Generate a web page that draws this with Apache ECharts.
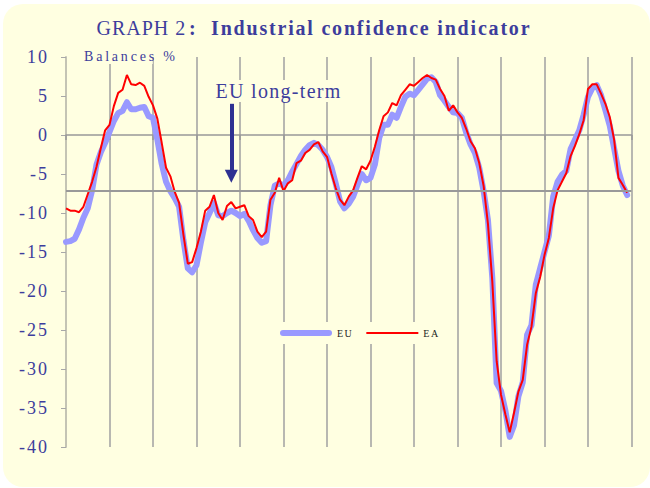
<!DOCTYPE html>
<html>
<head>
<meta charset="utf-8">
<script src="https://cdn.jsdelivr.net/npm/echarts@6/dist/echarts.min.js"></script>
<style>
    html, body { margin: 0; padding: 0; background: #ffffff; }
    #panel {
        position: absolute; left: 3px; top: 4px; width: 647px; height: 483px;
        background: #ffffe1; border-radius: 20px;
    }
    #main { position: absolute; left: 0; top: 0; width: 650px; height: 488px; }
</style>
</head>
<body>
<div id="panel"></div>
<div id="main"></div>
<script>
// values, one point every ~1/10 of a grid interval
var euValues = [
    -13.7, -13.6, -13.3, -12.1, -10.6, -9.4, -7.1, -3.8, -2.2, -1.0,
    0.4, 1.8, 2.8, 3.1, 4.2, 3.3, 3.3, 3.5, 3.6, 2.4,
    2.2, -0.6, -3.7, -6.0, -7.2, -8.1, -9.2, -13.5, -17.1, -17.6,
    -16.7, -13.8, -11.2, -10.0, -8.7, -10.3, -10.4, -10.0, -9.7, -10.0,
    -10.4, -10.1, -11.0, -12.2, -13.2, -13.8, -13.6, -9.0, -6.5, -6.2,
    -6.5, -5.8, -4.7, -3.7, -2.7, -1.9, -1.3, -1.0, -1.3, -1.9,
    -2.8, -4.1, -6.2, -8.5, -9.4, -8.8, -7.9, -6.4, -5.0, -5.8,
    -5.5, -3.8, -0.4, 1.3, 1.3, 2.6, 2.2, 3.6, 4.9, 5.3,
    5.1, 5.8, 6.5, 7.2, 7.4, 6.8, 5.1, 4.4, 3.6, 2.9,
    2.8, 2.2, 0.3, -1.2, -2.3, -4.2, -7.2, -10.9, -18.3, -31.8,
    -32.8, -35.3, -38.7, -37.2, -33.5, -31.7, -25.6, -24.4, -19.2, -17.1,
    -15.0, -12.9, -7.9, -6.0, -5.1, -4.6, -1.8, -0.6, 0.6, 2.6,
    4.9, 6.0, 6.4, 5.1, 3.2, 1.2, -1.7, -4.6, -6.5, -7.7
];
var eaValues = [
    -9.4, -9.7, -9.7, -9.9, -9.2, -7.6, -6.0, -4.1, -1.7, 0.6,
    1.3, 3.7, 5.4, 5.8, 7.7, 6.5, 6.4, 6.7, 6.3, 4.9,
    3.8, 2.1, -1.0, -4.2, -5.3, -7.3, -8.7, -12.8, -16.5, -16.3,
    -14.5, -12.4, -9.7, -9.2, -7.7, -10.0, -10.9, -9.1, -8.6, -9.4,
    -9.2, -9.0, -10.4, -10.9, -12.4, -13.1, -12.4, -8.3, -7.4, -5.5,
    -7.2, -6.2, -5.8, -3.6, -3.3, -2.3, -1.9, -1.2, -0.9, -2.1,
    -2.8, -4.9, -6.8, -8.3, -9.0, -7.9, -7.1, -5.5, -4.0, -4.4,
    -3.3, -1.5, 0.6, 2.4, 2.9, 4.1, 3.8, 5.1, 5.8, 6.5,
    6.3, 6.8, 7.3, 7.7, 7.3, 7.1, 5.9, 5.0, 3.1, 3.8,
    2.9, 2.2, 0.8, -0.8, -1.7, -3.6, -6.5, -11.4, -18.8, -29.0,
    -33.3, -35.8, -38.1, -35.6, -32.9, -31.4, -26.9, -24.6, -20.3, -18.2,
    -15.4, -13.2, -9.4, -7.1, -6.0, -4.9, -2.7, -1.4, 0.1, 1.9,
    5.9, 6.5, 6.5, 5.3, 4.0, 2.3, -0.6, -5.5, -6.4, -7.4
];
var longTermAvg = -7.2;
// arrow "EU long-term": category index, top and tip values
var arrowAt = 38;
var arrowFrom = 4.0;
var arrowTo = -5.3;

var categories = [];
for (var k = 0; k <= 130; k++) {
    categories.push(String(k + 1));
}

var serif = "'Liberation Serif', 'DejaVu Serif', serif";
var blue = '#3d3d9c';
var bg = '#ffffe1';

// spaced-out lettering of the original, applied to the svg texts after render
var spacing = {
    'GRAPH 2': 1,
    ':  Industrial confidence indicator': 1.8,
    'Balances %': 2.8,
    'EU long-term': 1.3,
    'EU': 1.5,
    'EA': 1.5
};

var chartDom = document.getElementById('main');
var myChart = echarts.init(chartDom, null, { renderer: 'svg' });
var option = {
    animation: false,
    title: {
        text: 'GRAPH 2',
        left: 91.5,
        top: 12.5,
        textStyle: { fontFamily: serif, fontSize: 20, fontWeight: 'normal', color: blue }
    },
    graphic: [
        {
            type: 'text',
            left: 189,
            top: 17.5,
            style: {
                text: ':  Industrial confidence indicator',
                font: 'bold 20px ' + serif,
                fill: blue
            }
        },
        {
            type: 'text',
            left: 81,
            top: 48,
            z: 10,
            style: {
                text: 'Balances %',
                font: '14px ' + serif,
                fill: blue,
                backgroundColor: bg,
                padding: [1, 3]
            }
        },
        {
            type: 'text',
            left: 213.5,
            top: 80,
            z: 10,
            style: {
                text: 'EU long-term',
                font: '20px ' + serif,
                fill: blue,
                backgroundColor: bg,
                padding: [1, 18, 1, 2]
            }
        }
    ],
    legend: {
        left: 272,
        top: 322,
        padding: [6, 8, 6, 8],
        itemGap: 16,
        itemWidth: 52,
        itemHeight: 12,
        backgroundColor: bg,
        textStyle: { fontFamily: serif, fontSize: 10, color: '#222' },
        data: [
            { name: 'EU', icon: 'path://M3,0 L49,0 A3,3 0 0 1 49,6 L3,6 A3,3 0 0 1 3,0 Z' },
            { name: 'EA', icon: 'path://M0,0 L50,0 L50,2 L0,2 Z' }
        ]
    },
    grid: {
        left: 66,
        right: 18.5,
        top: 57,
        bottom: 41
    },
    xAxis: {
        type: 'category',
        boundaryGap: false,
        data: categories,
        axisLine: { lineStyle: { color: '#999999', width: 1.5 } },
        axisTick: { interval: 9, length: 5, lineStyle: { color: '#999999', width: 1.5 } },
        axisLabel: { show: false },
        splitLine: { show: true, interval: 9, lineStyle: { color: '#a0a0a0', width: 1.5 } }
    },
    yAxis: {
        type: 'value',
        min: -40,
        max: 10,
        interval: 5,
        axisLine: { show: true, lineStyle: { color: '#c4c4b4', width: 2 } },
        axisTick: { show: true, length: 5, lineStyle: { color: '#a8a8a8' } },
        axisLabel: { fontFamily: serif, fontSize: 18, color: blue, margin: 17 },
        splitLine: { show: false }
    },
    series: [
        {
            name: 'EU',
            type: 'line',
            data: euValues,
            symbol: 'none',
            lineStyle: { width: 6, color: '#9999ff', cap: 'round', join: 'round' },
            itemStyle: { color: '#9999ff' },
            markLine: {
                silent: true,
                symbol: ['none', 'none'],
                label: { show: false },
                lineStyle: { color: '#999999', width: 2, type: 'solid' },
                data: [{ yAxis: longTermAvg }]
            }
        },
        {
            name: 'EA',
            type: 'line',
            data: eaValues,
            symbol: 'none',
            lineStyle: { width: 2, color: '#ff0000' },
            itemStyle: { color: '#ff0000' },
            markLine: {
                silent: true,
                symbol: ['none', 'triangle'],
                symbolSize: [13, 13],
                label: { show: false },
                lineStyle: { color: '#2e3192', width: 4, type: 'solid' },
                itemStyle: { color: '#2e3192' },
                data: [[{ coord: [arrowAt, arrowFrom] }, { coord: [arrowAt, arrowTo] }]]
            }
        }
    ]
};

function spaceLetters() {
    var texts = chartDom.querySelectorAll('svg text');
    texts.forEach(function (t) {
        var s = t.textContent;
        if (spacing[s] !== undefined) {
            t.style.letterSpacing = spacing[s] + 'px';
        } else if (/^-?\d+$/.test(s)) {
            // y axis tick labels
            t.style.letterSpacing = '2px';
        }
    });
}

option && myChart.setOption(option);
spaceLetters();
myChart.on('finished', spaceLetters);
setTimeout(spaceLetters, 0);
</script>
</body>
</html>
